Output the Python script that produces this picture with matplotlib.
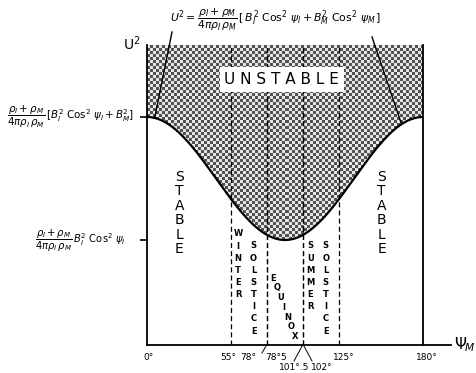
import numpy as np
import matplotlib
matplotlib.use("Agg")
import matplotlib.pyplot as plt
from matplotlib.patches import Polygon

plt.rcParams['font.family'] = ['DejaVu Sans']
plt.rcParams['mathtext.fontset'] = 'dejavusans'

# ---- data ----
u2_min = 0.35       # rho-term * B_I^2 cos^2 psi_I  (axis units)
u2_max = 0.76       # rho-term * [B_I^2 cos^2 psi_I + B_M^2]
line_angles = [55, 78, 78.5, 101.5, 102, 125]
tick_angles = [0, 55, 78, 78.5, 101.5, 102, 125, 180]
tick_labels = ["0°", "55°", "78°", "78°5", "101°.5", "102°", "125°", "180°"]
season_labels = ["WINTER", "SOLSTICE", "EQUINOX", "SUMMER", "SOLSTICE"]

W, H = 476, 373
fig = plt.figure(figsize=(W / 100, H / 100), dpi=100)
L, R, T, B = 147, 423, 45, 345
ax = fig.add_axes([L / W, 1 - B / H, (R - L) / W, (B - T) / H])
ax.set_xlim(0, 180)
ax.set_ylim(0, 1)

psi = np.linspace(0, 180, 361)
curve = u2_min + (u2_max - u2_min) * np.cos(np.radians(psi)) ** 2

# unstable region: halftone clipped to region above curve
poly_xy = np.column_stack([np.r_[psi, 180, 0], np.r_[curve, 1, 1]])
clip = Polygon(poly_xy, closed=True, transform=ax.transData, facecolor='none', edgecolor='none')
ax.add_patch(clip)
ny, nx = 100, 92
yy, xx = np.mgrid[0:ny, 0:nx]
checker = np.where((xx + yy) % 2 == 0, 0.32, 0.90)
im = ax.imshow(checker, extent=(0, 180, 0, 1), cmap='gray', vmin=0, vmax=1,
               interpolation='nearest', aspect='auto', origin='lower', zorder=1)
im.set_clip_path(clip)

ax.plot(psi, curve, color='black', lw=1.6, zorder=3)

# vertical dashed lines
for a in line_angles:
    ax.plot([a, a], [0, 1], color='black', lw=0.9, ls=(0, (4, 2.5)), zorder=2)

# spines
for s in ['top', 'bottom']:
    ax.spines[s].set_visible(False)
ax.spines['left'].set_linewidth(1.3)
ax.spines['right'].set_linewidth(1.3)
ax.plot([0, 198], [0, 0], color='black', lw=1.3, clip_on=False, zorder=4)
ax.set_xticks([])
ax.set_yticks([u2_min, u2_max])
ax.set_yticklabels([])
ax.tick_params(axis='y', length=5, width=1.2, direction='out')

# unstable label
ax.text(88, 0.885, "U N S T A B L E", ha='center', va='center', fontsize=11,
        bbox=dict(facecolor='white', edgecolor='none', pad=3.5), zorder=5)

# stable labels
stab = "\n".join("STABLE")
ax.text(21, 0.44, stab, ha='center', va='center', fontsize=10, linespacing=1.05)
ax.text(153, 0.44, stab, ha='center', va='center', fontsize=10, linespacing=1.05)

# season labels
def stacked(x, ytop, word, fs=6, ls=1.45):
    ax.text(x, ytop, "\n".join(word), ha='center', va='top', fontsize=fs,
            linespacing=ls, fontweight='bold')

stacked(59.5, 0.385, season_labels[0])
stacked(69.5, 0.345, season_labels[1])
stacked(106.5, 0.345, season_labels[3])
stacked(116.5, 0.345, season_labels[4])
# equinox diagonal
word = season_labels[2]
n = len(word)
for i, ch in enumerate(word):
    t = i / (n - 1)
    x = 82.5 + t * (96.5 - 82.5)
    y = 0.223 - t * (0.223 - 0.028)
    ax.text(x, y, ch, ha='center', va='center', fontsize=6, fontweight='bold')

# x tick labels
def px2x(px):
    return (px - L) / (R - L) * 180
def py2y(py):
    return (B - py) / (B - T)

label_pos = {"0°": (148, 357), "55°": (228, 357), "78°": (248, 357), "78°5": (276, 357),
             "101°.5": (294, 367), "102°": (322, 367), "125°": (344, 357), "180°": (427, 357)}
for a, lab in zip(tick_angles, tick_labels):
    px, py = label_pos[lab]
    ax.text(px2x(px), py2y(py), lab, ha='center', va='center', fontsize=6.5, clip_on=False)

# leader lines
ax.plot([78, px2x(262)], [0, py2y(353)], color='black', lw=0.7, clip_on=False)
ax.plot([101.5, px2x(294)], [0, py2y(361)], color='black', lw=0.7, clip_on=False)
ax.plot([102, px2x(312)], [0, py2y(361)], color='black', lw=0.7, clip_on=False)

# axis labels
fig.text(132 / W, 1 - 44 / H, r"U$^2$", ha='center', va='center', fontsize=10)
fig.text(465 / W, 1 - 345 / H, r"$\Psi_{\!M}$", ha='center', va='center', fontsize=11)

# formulas
frac = r"\dfrac{\rho_I+\rho_M}{4\pi\rho_I\,\rho_M}"
fig.text(70 / W, 1 - 117 / H,
         r"$" + frac + r"\,[B_I^2\ \mathrm{Cos}^2\ \psi_I + B_M^2]$",
         ha='center', va='center', fontsize=7.4)
fig.text(80 / W, 1 - 241 / H,
         r"$" + frac + r"\,B_I^2\ \mathrm{Cos}^2\ \psi_I$",
         ha='center', va='center', fontsize=7.2)
fig.text(276 / W, 1 - 20 / H,
         r"$U^2 = " + frac + r"\,[\,B_I^2\ \mathrm{Cos}^2\ \psi_I + B_M^2\ \mathrm{Cos}^2\ \psi_M\,]$",
         ha='center', va='center', fontsize=7.8)

# pointer lines
p1 = 5.0
ax.plot([px2x(172), p1], [py2y(32), u2_min + (u2_max - u2_min) * np.cos(np.radians(p1)) ** 2],
        color='black', lw=1.0, clip_on=False, zorder=4)
p2 = 166.0
ax.plot([px2x(372), p2], [py2y(37), u2_min + (u2_max - u2_min) * np.cos(np.radians(p2)) ** 2],
        color='black', lw=1.0, clip_on=False, zorder=4)

fig.savefig("out.png", dpi=100)
